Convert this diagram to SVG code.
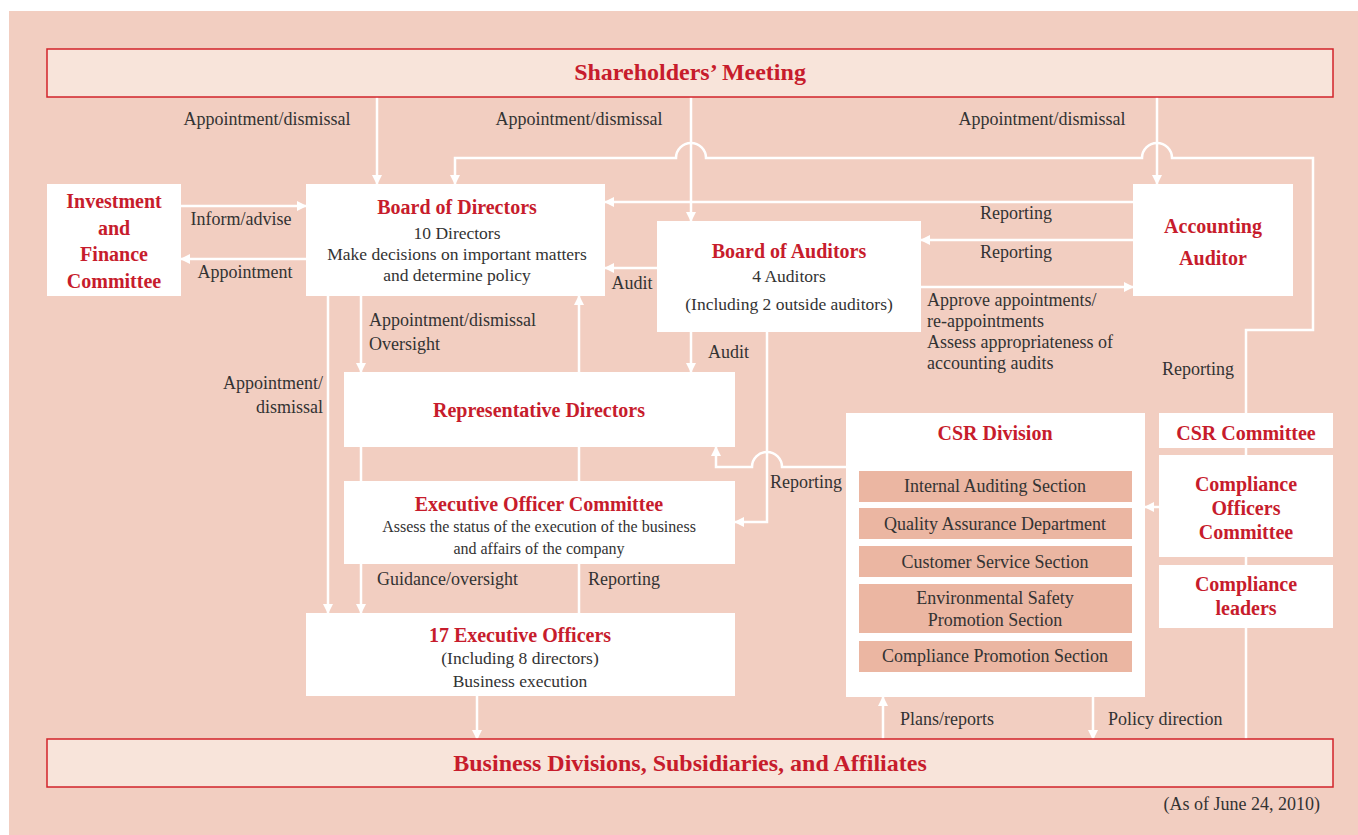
<svg xmlns="http://www.w3.org/2000/svg" width="1358" height="835" viewBox="0 0 1358 835">
  <defs>
    <marker id="ah" viewBox="0 0 10 10" refX="9" refY="5" markerWidth="10" markerHeight="10" markerUnits="userSpaceOnUse" orient="auto">
      <path d="M0,0 L10,5 L0,10 z" fill="#ffffff"/>
    </marker>
    <style>
      .bar { fill: #f8e4da; stroke: #d2232a; stroke-width: 1.5; }
      .box { fill: #ffffff; }
      .sec { fill: #ebb6a2; }
      .ln { fill: none; stroke: #ffffff; stroke-width: 2.5; }
      .arr { fill: none; stroke: #ffffff; stroke-width: 2.5; marker-end: url(#ah); }
      text { font-family: "Liberation Serif", "Times New Roman", serif; }
      .big { font-size: 24px; font-weight: bold; fill: #c71c2c; text-anchor: middle; }
      .ttl { font-size: 20px; font-weight: bold; fill: #c71c2c; text-anchor: middle; }
      .txt { font-size: 17.5px; fill: #333333; text-anchor: middle; }
      .stx { font-size: 18px; fill: #333333; text-anchor: middle; }
      .sm { font-size: 16px; fill: #333333; text-anchor: middle; }
      .lbl { font-size: 18px; fill: #333333; }
      .mid { text-anchor: middle; }
      .end { text-anchor: end; }
    </style>
  </defs>

  <rect x="0" y="0" width="1358" height="835" fill="#ffffff"/>
  <rect x="9" y="11" width="1349" height="824" fill="#f2cec1"/>

  <!-- connectors -->
  <g id="connectors">
    <!-- from the shareholders' meeting -->
    <line class="arr" x1="377" y1="97" x2="377" y2="184"/>
    <line class="arr" x1="691" y1="97" x2="691" y2="221"/>
    <line class="arr" x1="1157" y1="97" x2="1157" y2="184"/>

    <!-- CSR Committee reporting line to the board, hopping over two verticals -->
    <path class="arr" d="M1246,413 L1246,330 L1313,330 L1313,158 L1172,158 A15,15 0 0 0 1142,158 L706,158 A15,15 0 0 0 676,158 L455,158 L455,184"/>
    <!-- CSR Committee line running down past the compliance boxes -->
    <line class="ln" x1="1246" y1="448" x2="1246" y2="739"/>

    <!-- accounting auditor exchanges -->
    <line class="arr" x1="1133" y1="202" x2="605" y2="202"/>
    <line class="arr" x1="1133" y1="240" x2="921" y2="240"/>
    <line class="arr" x1="921" y1="287" x2="1133" y2="287"/>

    <!-- investment and finance committee -->
    <line class="arr" x1="181" y1="206" x2="306" y2="206"/>
    <line class="arr" x1="306" y1="259" x2="181" y2="259"/>

    <!-- board of auditors audit lines -->
    <line class="arr" x1="657" y1="268" x2="605" y2="268"/>
    <line class="arr" x1="691" y1="332" x2="691" y2="372"/>
    <path class="arr" d="M767,332 L767,522 L735,522"/>

    <!-- board of directors downward lines -->
    <line class="arr" x1="328" y1="296" x2="328" y2="613"/>
    <line class="arr" x1="361" y1="296" x2="361" y2="372"/>
    <line class="arr" x1="579" y1="372" x2="579" y2="296"/>

    <!-- representative directors to executive officer committee -->
    <line class="ln" x1="361" y1="447" x2="361" y2="481"/>
    <line class="ln" x1="579" y1="447" x2="579" y2="481"/>

    <!-- CSR Division reporting to representative directors -->
    <path class="arr" d="M846,467 L782,467 A15,15 0 0 0 752,467 L716,467 L716,447"/>

    <!-- executive officer committee and executive officers -->
    <line class="arr" x1="361" y1="564" x2="361" y2="613"/>
    <line class="ln" x1="579" y1="613" x2="579" y2="564"/>

    <!-- to and from the business divisions -->
    <line class="arr" x1="477" y1="696" x2="477" y2="739"/>
    <line class="arr" x1="883" y1="739" x2="883" y2="697"/>
    <line class="arr" x1="1093" y1="697" x2="1093" y2="739"/>

    <!-- compliance officers committee to CSR Division -->
    <line class="arr" x1="1159" y1="507" x2="1145" y2="507"/>
  </g>

  <!-- connector labels -->
  <g id="labels">
    <text class="lbl mid" x="267" y="125">Appointment/dismissal</text>
    <text class="lbl mid" x="579" y="125">Appointment/dismissal</text>
    <text class="lbl mid" x="1042" y="125">Appointment/dismissal</text>
    <text class="lbl mid" x="241" y="225">Inform/advise</text>
    <text class="lbl mid" x="245" y="278">Appointment</text>
    <text class="lbl mid" x="1016" y="219">Reporting</text>
    <text class="lbl mid" x="1016" y="258">Reporting</text>
    <text class="lbl" x="927" y="306">Approve appointments/</text>
    <text class="lbl" x="927" y="327">re-appointments</text>
    <text class="lbl" x="927" y="348">Assess appropriateness of</text>
    <text class="lbl" x="927" y="369">accounting audits</text>
    <text class="lbl mid" x="1198" y="375">Reporting</text>
    <text class="lbl mid" x="632" y="289">Audit</text>
    <text class="lbl" x="708" y="358">Audit</text>
    <text class="lbl" x="369" y="326">Appointment/dismissal</text>
    <text class="lbl" x="369" y="350">Oversight</text>
    <text class="lbl end" x="323" y="389">Appointment/</text>
    <text class="lbl end" x="323" y="413">dismissal</text>
    <text class="lbl" x="770" y="488">Reporting</text>
    <text class="lbl" x="377" y="585">Guidance/oversight</text>
    <text class="lbl" x="588" y="585">Reporting</text>
    <text class="lbl" x="900" y="725">Plans/reports</text>
    <text class="lbl" x="1108" y="725">Policy direction</text>
    <text class="lbl end" x="1320" y="810">(As of June 24, 2010)</text>
  </g>

  <g id="shareholders-meeting">
    <rect class="bar" x="47" y="49" width="1286" height="48"/>
    <text class="big" x="690" y="80">Shareholders’ Meeting</text>
  </g>

  <g id="business-divisions">
    <rect class="bar" x="47" y="739" width="1286" height="48"/>
    <text class="big" x="690" y="771">Business Divisions, Subsidiaries, and Affiliates</text>
  </g>

  <g id="investment-finance-committee">
    <rect class="box" x="47" y="184" width="134" height="112"/>
    <text class="ttl" x="114" y="208">Investment</text>
    <text class="ttl" x="114" y="235">and</text>
    <text class="ttl" x="114" y="261">Finance</text>
    <text class="ttl" x="114" y="288">Committee</text>
  </g>

  <g id="board-of-directors">
    <rect class="box" x="306" y="184" width="299" height="112"/>
    <text class="ttl" x="457" y="214">Board of Directors</text>
    <text class="txt" x="457" y="239">10 Directors</text>
    <text class="txt" x="457" y="260">Make decisions on important matters</text>
    <text class="txt" x="457" y="281">and determine policy</text>
  </g>

  <g id="board-of-auditors">
    <rect class="box" x="657" y="221" width="264" height="111"/>
    <text class="ttl" x="789" y="258">Board of Auditors</text>
    <text class="txt" x="789" y="282">4 Auditors</text>
    <text class="txt" x="789" y="310">(Including 2 outside auditors)</text>
  </g>

  <g id="accounting-auditor">
    <rect class="box" x="1133" y="184" width="160" height="112"/>
    <text class="ttl" x="1213" y="233">Accounting</text>
    <text class="ttl" x="1213" y="265">Auditor</text>
  </g>

  <g id="representative-directors">
    <rect class="box" x="344" y="372" width="391" height="75"/>
    <text class="ttl" x="539" y="417">Representative Directors</text>
  </g>

  <g id="executive-officer-committee">
    <rect class="box" x="344" y="481" width="391" height="83"/>
    <text class="ttl" x="539" y="511">Executive Officer Committee</text>
    <text class="sm" x="539" y="532">Assess the status of the execution of the business</text>
    <text class="sm" x="539" y="554">and affairs of the company</text>
  </g>

  <g id="executive-officers">
    <rect class="box" x="306" y="613" width="429" height="83"/>
    <text class="ttl" x="520" y="642">17 Executive Officers</text>
    <text class="txt" x="520" y="664">(Including 8 directors)</text>
    <text class="txt" x="520" y="687">Business execution</text>
  </g>

  <g id="csr-division">
    <rect class="box" x="846" y="413" width="299" height="284"/>
    <text class="ttl" x="995" y="440">CSR Division</text>
    <rect class="sec" x="859" y="471" width="273" height="31"/>
    <text class="stx" x="995" y="492">Internal Auditing Section</text>
    <rect class="sec" x="859" y="508" width="273" height="31"/>
    <text class="stx" x="995" y="530">Quality Assurance Department</text>
    <rect class="sec" x="859" y="546" width="273" height="31"/>
    <text class="stx" x="995" y="568">Customer Service Section</text>
    <rect class="sec" x="859" y="584" width="273" height="49"/>
    <text class="stx" x="995" y="604">Environmental Safety</text>
    <text class="stx" x="995" y="626">Promotion Section</text>
    <rect class="sec" x="859" y="641" width="273" height="31"/>
    <text class="stx" x="995" y="662">Compliance Promotion Section</text>
  </g>

  <g id="csr-committee">
    <rect class="box" x="1159" y="413" width="174" height="35"/>
    <text class="ttl" x="1246" y="440">CSR Committee</text>
  </g>

  <g id="compliance-officers-committee">
    <rect class="box" x="1159" y="455" width="174" height="102"/>
    <text class="ttl" x="1246" y="491">Compliance</text>
    <text class="ttl" x="1246" y="515">Officers</text>
    <text class="ttl" x="1246" y="539">Committee</text>
  </g>

  <g id="compliance-leaders">
    <rect class="box" x="1159" y="565" width="174" height="63"/>
    <text class="ttl" x="1246" y="591">Compliance</text>
    <text class="ttl" x="1246" y="615">leaders</text>
  </g>
</svg>
